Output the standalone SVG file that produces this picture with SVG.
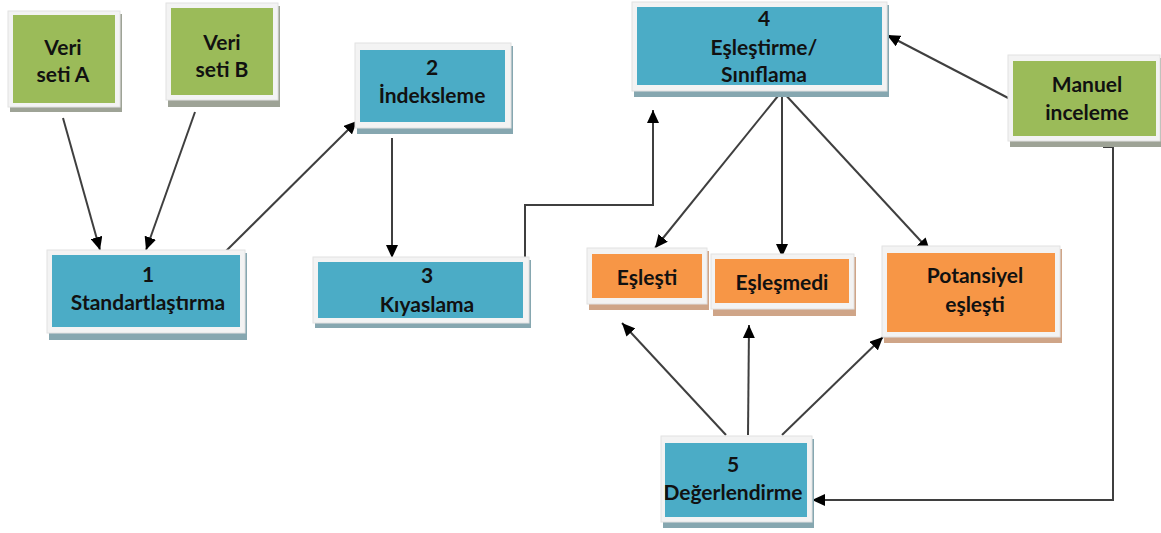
<svg xmlns="http://www.w3.org/2000/svg" width="1161" height="533" viewBox="0 0 1161 533">
<defs>
<marker id="ah" markerUnits="userSpaceOnUse" markerWidth="14" markerHeight="12" refX="13" refY="6" orient="auto">
<path d="M0,0 L13,6 L0,12 z" fill="#000"/>
</marker>
<style>
.frame{fill:#f3f3f3;stroke:#e2e2e2;stroke-width:1}
.sb{fill:#86a7b0}
.sg{fill:#9ea396}
.so{fill:#cfa588}
.blue{fill:#4bacc6}
.green{fill:#9bbb59}
.orange{fill:#f79646}
text{font-family:Lato,"Open Sans","Liberation Sans",sans-serif;font-weight:bold;font-size:21px;fill:#111;text-anchor:middle}
.c{fill:none;stroke:#3f3f3f;stroke-width:2}
</style>
</defs>
<rect width="1161" height="533" fill="#fff"/>
<g id="connectors">
<line class="c" x1="63" y1="118" x2="100" y2="250" marker-end="url(#ah)"/>
<line class="c" x1="195" y1="112" x2="146" y2="250" marker-end="url(#ah)"/>
<line class="c" x1="221" y1="256" x2="357" y2="121" marker-end="url(#ah)"/>
<line class="c" x1="392" y1="138" x2="392" y2="258" marker-end="url(#ah)"/>
<polyline class="c" points="525,302 525,205 653,205 653,110" marker-end="url(#ah)"/>
<line class="c" x1="1012" y1="100" x2="887" y2="35" marker-end="url(#ah)"/>
<line class="c" x1="782" y1="91" x2="655" y2="248" marker-end="url(#ah)"/>
<line class="c" x1="782" y1="91" x2="782" y2="257" marker-end="url(#ah)"/>
<line class="c" x1="782" y1="91" x2="930" y2="251" marker-end="url(#ah)"/>
<line class="c" x1="726" y1="435" x2="622" y2="323" marker-end="url(#ah)"/>
<line class="c" x1="748" y1="435" x2="749" y2="325" marker-end="url(#ah)"/>
<line class="c" x1="782" y1="435" x2="883" y2="337" marker-end="url(#ah)"/>
<polyline class="c" points="1103,147 1113,147 1113,500 812,500" marker-end="url(#ah)"/>
</g>
<g id="veri-a">
<rect class="sg" x="10" y="14" width="112" height="98"/>
<rect class="frame" x="8" y="11" width="112" height="96"/>
<rect class="green" x="13" y="15" width="102" height="88"/>
<text x="63" y="55">Veri</text>
<text x="63" y="82">seti A</text>
</g>
<g id="veri-b">
<rect class="sg" x="168" y="6" width="112" height="101"/>
<rect class="frame" x="166" y="3" width="112" height="97"/>
<rect class="green" x="171" y="8" width="102" height="87"/>
<text x="222" y="50">Veri</text>
<text x="222" y="77">seti B</text>
</g>
<g id="n1">
<rect class="sb" x="49" y="253" width="198" height="87"/>
<rect class="frame" x="47" y="250" width="198" height="83"/>
<rect class="blue" x="52" y="255" width="188" height="72"/>
<text x="148" y="282">1</text>
<text x="148" y="310">Standartlaştırma</text>
</g>
<g id="n2">
<rect class="sb" x="357" y="46" width="156" height="88"/>
<rect class="frame" x="355" y="43" width="156" height="85"/>
<rect class="blue" x="360" y="50" width="145" height="72"/>
<text x="432" y="75">2</text>
<text x="432" y="103">İndeksleme</text>
</g>
<g id="n3">
<rect class="sb" x="315" y="260" width="216" height="68"/>
<rect class="frame" x="313" y="257" width="216" height="66"/>
<rect class="blue" x="318" y="262" width="205" height="56"/>
<text x="427" y="283">3</text>
<text x="427" y="312">Kıyaslama</text>
</g>
<g id="n4">
<rect class="sb" x="634" y="5" width="255" height="92"/>
<rect class="frame" x="632" y="2" width="255" height="89"/>
<rect class="blue" x="637" y="7" width="245" height="78"/>
<text x="764" y="26">4</text>
<text x="764" y="55">Eşleştirme/</text>
<text x="764" y="82">Sınıflama</text>
</g>
<g id="manuel">
<rect class="sg" x="1010" y="58" width="152" height="89"/>
<rect class="frame" x="1008" y="55" width="152" height="86"/>
<rect class="green" x="1013" y="61" width="143" height="75"/>
<text x="1087" y="92">Manuel</text>
<text x="1087" y="120">inceleme</text>
</g>
<g id="eslesti">
<rect class="so" x="589" y="251" width="120" height="59"/>
<rect class="frame" x="587" y="248" width="120" height="56"/>
<rect class="orange" x="592" y="254" width="110" height="44"/>
<text x="647" y="285">Eşleşti</text>
</g>
<g id="eslesmedi">
<rect class="so" x="713" y="257" width="143" height="59"/>
<rect class="frame" x="711" y="254" width="143" height="55"/>
<rect class="orange" x="715" y="259" width="134" height="44"/>
<text x="782" y="290">Eşleşmedi</text>
</g>
<g id="potansiyel">
<rect class="so" x="884" y="249" width="178" height="94"/>
<rect class="frame" x="882" y="246" width="178" height="91"/>
<rect class="orange" x="887" y="253" width="168" height="79"/>
<text x="975" y="283">Potansiyel</text>
<text x="975" y="312">eşleşti</text>
</g>
<g id="n5">
<rect class="sb" x="663" y="439" width="151" height="89"/>
<rect class="frame" x="661" y="436" width="151" height="86"/>
<rect class="blue" x="665" y="443" width="142" height="74"/>
<text x="733" y="472">5</text>
<text x="733" y="500">Değerlendirme</text>
</g>
</svg>
